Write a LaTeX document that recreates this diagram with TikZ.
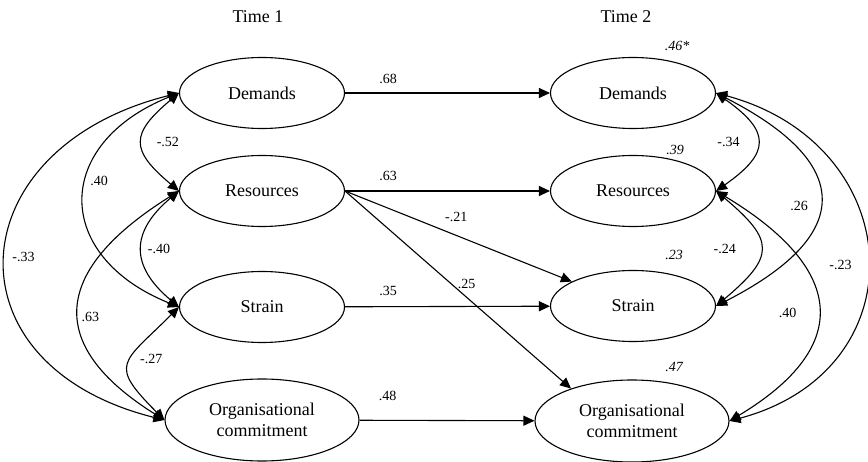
\documentclass[tikz,border=0pt]{standalone}
\usepackage{fontspec}
\setmainfont{Liberation Serif}
\usetikzlibrary{shapes.geometric,arrows.meta,positioning}

\tikzset{
    var/.style={draw, ellipse, line width=1.1pt, minimum width=165pt, minimum height=71pt,
        inner sep=0pt, align=center, font=\fontsize{18}{21}\selectfont},
    bigvar/.style={var, minimum width=194pt, minimum height=82pt},
    reg/.style={line width=1.1pt, -{Triangle[length=11pt,width=10pt]}},
    cov/.style={line width=1.1pt, {Triangle[length=11pt,width=10pt]}-{Triangle[length=11pt,width=10pt]}},
    coef/.style={inner sep=1pt, font=\fontsize{14}{16}\selectfont},
    rsq/.style={inner sep=1pt, font=\fontsize{14}{16}\selectfont\itshape},
    timehead/.style={font=\fontsize{18}{21}\selectfont}
}

\begin{document}
\begin{tikzpicture}[x=1pt,y=1pt]
    \useasboundingbox (0,0) rectangle (868,-462);

    \node[timehead] (t1) at (258,-17) {Time 1};
    \node[timehead] (t2) at (626,-17) {Time 2};

    \node[var] (dL) at (262,-93) {Demands};
    \node[var] (rL) at (262,-191) {Resources};
    \node[var] (sL) at (262,-307) {Strain};
    \node[bigvar] (oL) at (262,-420) {Organisational\\commitment};

    \node[var] (dR) at (633,-93) {Demands};
    \node[var] (rR) at (633,-191) {Resources};
    \node[var] (sR) at (633,-306) {Strain};
    \node[bigvar] (oR) at (632,-421) {Organisational\\commitment};

    \node[rsq] (r2d) at ([xshift=44pt,yshift=11pt]dR.north) {.46*};
    \node[rsq] (r2r) at ([xshift=42pt,yshift=4.5pt]rR.north) {.39};
    \node[rsq] (r2s) at ([xshift=41pt,yshift=14.5pt]sR.north) {.23};
    \node[rsq] (r2o) at ([xshift=42pt,yshift=12pt]oR.north) {.47};

    \draw [reg](dL) -- (dR) node[coef,above=8pt,pos=0.21]{.68};
    \draw [reg](rL) -- (rR) node[coef,above=9pt,pos=0.21]{.63};
    \draw [reg](sL) -- (sR) node[coef,above=9pt,pos=0.21]{.35};
    \draw [reg](oL) -- (oR) node[coef,above=18pt,pos=0.16]{.48};
    \draw [reg](rL.east) -- (sR) node[coef,above=12pt,pos=0.49]{-.21};
    \draw [reg](rL.east) -- (oR.152) node[coef,right=5pt,pos=0.47]{.25};

    \draw [cov](dL.west) to[out=220,in=140,looseness=1.67] node[coef,right=13pt,pos=0.5]{-.52} (rL.west);
    \draw [cov](dL.west) to[out=202,in=158,looseness=1.63] node[coef,right=2pt,pos=0.42]{.40} (sL.west);
    \draw [cov](rL.west) to[out=220,in=140,looseness=1.41] node[coef,right=4pt,pos=0.5]{-.40} (sL.west);
    \draw [cov](rL.west) to[out=212,in=148,looseness=1.62] node[coef,right=1pt,pos=0.55]{.63} (oL.west);
    \draw [cov](sL.west) to[out=225,in=135,looseness=1.8] node[coef,right=8pt,pos=0.45]{-.27} (oL.west);
    \draw [cov](dL.west) to[out=194,in=166,looseness=1.78] node[coef,right=5pt,pos=0.5]{-.33} (oL.west);

    \draw [cov](dR.east) to[out=-35,in=35,looseness=1.75] node[coef,left=16pt,pos=0.5]{-.34} (rR.east);
    \draw [cov](dR.east) to[out=-27,in=27,looseness=1.87] node[coef,left=10pt,pos=0.53]{.26} (sR.east);
    \draw [cov](rR.east) to[out=-40,in=40,looseness=1.72] node[coef,left=23pt,pos=0.5]{-.24} (sR.east);
    \draw [cov](rR.east) to[out=-31,in=31,looseness=1.64] node[coef,left=20pt,pos=0.53]{.40} (oR.east);
    \draw [cov](dR.east) to[out=-15,in=15,looseness=1.55] node[coef,left=14pt,pos=0.52]{-.23} (oR.east);
\end{tikzpicture}
\end{document}
